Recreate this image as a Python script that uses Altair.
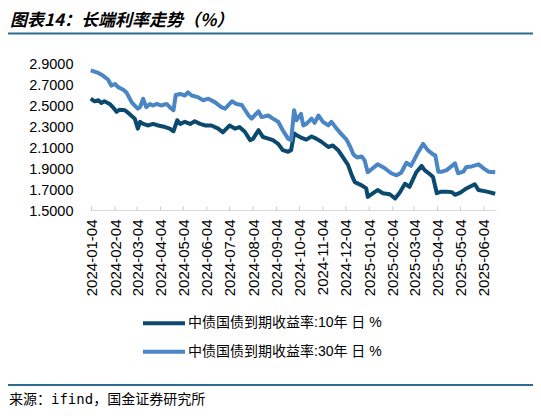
import altair as alt
import pandas as pd

series_names = ["中债国债到期收益率:10年 日 %", "中债国债到期收益率:30年 日 %"]
series_colors = ["#0b4a6e", "#4a85c4"]

dates_10y = [
    "2024-01-03", "2024-01-08", "2024-01-13", "2024-01-17", "2024-01-21", "2024-01-28",
    "2024-02-01", "2024-02-06", "2024-02-10", "2024-02-17", "2024-02-23", "2024-03-01",
    "2024-03-05", "2024-03-08", "2024-03-12", "2024-03-19", "2024-03-25", "2024-04-01",
    "2024-04-10", "2024-04-16", "2024-04-21", "2024-04-26", "2024-04-30", "2024-05-06",
    "2024-05-13", "2024-05-19", "2024-05-26", "2024-06-02", "2024-06-10", "2024-06-19",
    "2024-06-25", "2024-07-04", "2024-07-11", "2024-07-17", "2024-07-24", "2024-07-31",
    "2024-08-04", "2024-08-11", "2024-08-17", "2024-08-24", "2024-08-30", "2024-09-06",
    "2024-09-12", "2024-09-19", "2024-09-23", "2024-09-27", "2024-10-01", "2024-10-06",
    "2024-10-13", "2024-10-20", "2024-10-26", "2024-11-02", "2024-11-11", "2024-11-17",
    "2024-11-24", "2024-11-30", "2024-12-07", "2024-12-12", "2024-12-16", "2024-12-25",
    "2024-12-31", "2025-01-02", "2025-01-09", "2025-01-15", "2025-01-22", "2025-01-31",
    "2025-02-07", "2025-02-13", "2025-02-20", "2025-02-26", "2025-03-07", "2025-03-14",
    "2025-03-18", "2025-03-25", "2025-03-29", "2025-04-03", "2025-04-09", "2025-04-16",
    "2025-04-23", "2025-04-27", "2025-05-04", "2025-05-12", "2025-05-23", "2025-05-28",
    "2025-06-08", "2025-06-19",
]
yield_10y = [
    2.560, 2.535, 2.545, 2.520, 2.535, 2.510,
    2.480, 2.435, 2.455, 2.450, 2.415, 2.370,
    2.275, 2.340, 2.320, 2.305, 2.320, 2.305,
    2.290, 2.275, 2.250, 2.355, 2.320, 2.340,
    2.320, 2.345, 2.320, 2.305, 2.305, 2.275,
    2.240, 2.305, 2.275, 2.290, 2.245, 2.165,
    2.180, 2.260, 2.195, 2.180, 2.165, 2.130,
    2.070, 2.055, 2.070, 2.230, 2.210, 2.190,
    2.170, 2.200, 2.180, 2.150, 2.100, 2.115,
    2.070, 2.005, 1.930, 1.830, 1.765, 1.735,
    1.705, 1.625, 1.660, 1.690, 1.660, 1.650,
    1.610, 1.665, 1.750, 1.720, 1.860, 1.920,
    1.880, 1.840, 1.815, 1.660, 1.675, 1.675,
    1.670, 1.645, 1.665, 1.705, 1.745, 1.690,
    1.675, 1.655,
]

dates_30y = [
    "2024-01-03", "2024-01-13", "2024-01-19", "2024-01-26", "2024-01-30", "2024-02-04",
    "2024-02-08", "2024-02-15", "2024-02-19", "2024-02-26", "2024-03-01", "2024-03-05",
    "2024-03-08", "2024-03-12", "2024-03-16", "2024-03-21", "2024-03-25", "2024-03-30",
    "2024-04-05", "2024-04-12", "2024-04-16", "2024-04-21", "2024-04-24", "2024-04-30",
    "2024-05-06", "2024-05-10", "2024-05-15", "2024-05-23", "2024-05-30", "2024-06-06",
    "2024-06-15", "2024-06-23", "2024-06-28", "2024-07-07", "2024-07-13", "2024-07-20",
    "2024-07-29", "2024-08-02", "2024-08-11", "2024-08-15", "2024-08-24", "2024-08-30",
    "2024-09-06", "2024-09-12", "2024-09-19", "2024-09-23", "2024-09-27", "2024-09-30",
    "2024-10-06", "2024-10-09", "2024-10-13", "2024-10-20", "2024-10-24", "2024-10-29",
    "2024-11-04", "2024-11-11", "2024-11-15", "2024-11-22", "2024-11-28", "2024-12-05",
    "2024-12-10", "2024-12-14", "2024-12-19", "2024-12-25", "2024-12-29", "2025-01-02",
    "2025-01-09", "2025-01-15", "2025-01-24", "2025-02-02", "2025-02-09", "2025-02-15",
    "2025-02-22", "2025-02-28", "2025-03-09", "2025-03-16", "2025-03-22", "2025-03-29",
    "2025-04-01", "2025-04-05", "2025-04-10", "2025-04-16", "2025-04-23", "2025-04-27",
    "2025-05-01", "2025-05-08", "2025-05-12", "2025-05-19", "2025-05-28", "2025-06-04",
    "2025-06-10", "2025-06-19",
]
yield_30y = [
    2.830, 2.805, 2.780, 2.740, 2.685, 2.700,
    2.670, 2.645, 2.620, 2.525, 2.495, 2.465,
    2.480, 2.560, 2.480, 2.510, 2.495, 2.510,
    2.495, 2.510, 2.480, 2.450, 2.595, 2.605,
    2.590, 2.620, 2.590, 2.575, 2.545, 2.560,
    2.525, 2.480, 2.465, 2.535, 2.510, 2.500,
    2.400, 2.370, 2.440, 2.385, 2.400, 2.370,
    2.340, 2.260, 2.180, 2.165, 2.450, 2.355,
    2.415, 2.305, 2.320, 2.370, 2.330, 2.400,
    2.340, 2.305, 2.340, 2.275, 2.225, 2.170,
    2.100, 2.030, 2.000, 2.010, 1.970, 1.860,
    1.900, 1.935, 1.900, 1.850, 1.830, 1.855,
    1.950, 1.920, 2.045, 2.130, 2.070, 2.030,
    2.020, 1.865, 1.865, 1.880, 1.920, 1.945,
    1.850, 1.865, 1.910, 1.915, 1.935, 1.895,
    1.865, 1.860,
]

tick_dates = [
    "2024-01-04", "2024-02-04", "2024-03-04", "2024-04-04", "2024-05-04", "2024-06-04",
    "2024-07-04", "2024-08-04", "2024-09-04", "2024-10-04", "2024-11-04", "2024-12-04",
    "2025-01-04", "2025-02-04", "2025-03-04", "2025-04-04", "2025-05-04", "2025-06-04",
]
y_ticks = [1.5, 1.7, 1.9, 2.1, 2.3, 2.5, 2.7, 2.9]

title_text = "图表14：长端利率走势（%）"
source_text = "来源：ifind，国金证券研究所"

df = pd.concat([
    pd.DataFrame({"date": dates_10y, "value": yield_10y, "series": series_names[0]}),
    pd.DataFrame({"date": dates_30y, "value": yield_30y, "series": series_names[1]}),
])


def utc_date(s):
    y, m, d = map(int, s.split("-"))
    return alt.DateTime(year=y, month=m, date=d, utc=True)


x_scale = alt.Scale(type="utc", domain=[utc_date("2024-01-02"), utc_date("2025-06-20")])
x_axis = alt.Axis(
    values=[utc_date(d) for d in tick_dates],
    labelExpr="utcFormat(datum.value, '%Y-%m-%d')",
    labelAngle=270, labelFontSize=15, labelPadding=9, labelOverlap=False,
    ticks=False, grid=False, domainColor="#d9d9d9", title=None,
)

lines = alt.Chart(df).mark_line(strokeWidth=4, strokeJoin="round").encode(
    x=alt.X("date:T", scale=x_scale, axis=x_axis),
    y=alt.Y("value:Q", scale=alt.Scale(domain=[1.5, 2.9], nice=False, zero=False),
            axis=alt.Axis(values=y_ticks, format=".4f", labelFontSize=14.5, labelPadding=17,
                          labelOffset=1.5, domain=False, ticks=False, grid=False, title=None)),
    color=alt.Color("series:N", scale=alt.Scale(domain=series_names, range=series_colors), legend=None),
)

# small tick marks pointing up into the plot, like the original
tick_marks = alt.Chart(pd.DataFrame({"date": tick_dates})).mark_rule(color="#c8c8c8").encode(
    x=alt.X("date:T", scale=x_scale, axis=x_axis),
    y=alt.value(143.5), y2=alt.value(147),
)


def text_layer(text, x, y, **kw):
    return alt.Chart(pd.DataFrame({"t": [text]})).mark_text(
        align="left", baseline="middle", **kw
    ).encode(text="t:N", x=alt.value(x), y=alt.value(y))


def hrule(y, x1, x2, color, width):
    return alt.Chart(pd.DataFrame({"a": [0]})).mark_rule(
        color=color, strokeWidth=width, strokeCap="butt"
    ).encode(x=alt.value(x1), x2=alt.value(x2), y=alt.value(y))


title = text_layer(title_text, -80, -42.5, font="Noto Sans CJK SC", fontSize=17,
                   fontWeight="bold", fontStyle="italic", color="#000")
title_line = hrule(-29.5, -82, 446, "#2f6a8f", 2)
source_line = hrule(322, -82, 446, "#2f6a8f", 2)
source = text_layer(source_text, -81, 337, font="DejaVu Sans Mono, Noto Sans CJK SC",
                    fontSize=14, color="#000")

legend_layers = []
for i, (name, col) in enumerate(zip(series_names, series_colors)):
    ly = 260.3 + i * 28.4
    legend_layers.append(hrule(ly, 53, 95, col, 4))
    legend_layers.append(text_layer(name, 98, ly, font="Liberation Sans, Noto Sans CJK SC",
                                    fontSize=14, color="#000"))

chart = alt.layer(
    tick_marks, lines, title, title_line, source_line, source, *legend_layers
).properties(
    width=406,
    height=147,
    padding={"left": 82, "top": 55, "right": 37, "bottom": 198},
    autosize=alt.AutoSizeParams(type="none"),
).configure_view(
    stroke=None
).configure_axis(
    labelFont="Liberation Sans", labelColor="#000"
)

chart.save("out.html", embed_options={"renderer": "svg", "actions": False})
